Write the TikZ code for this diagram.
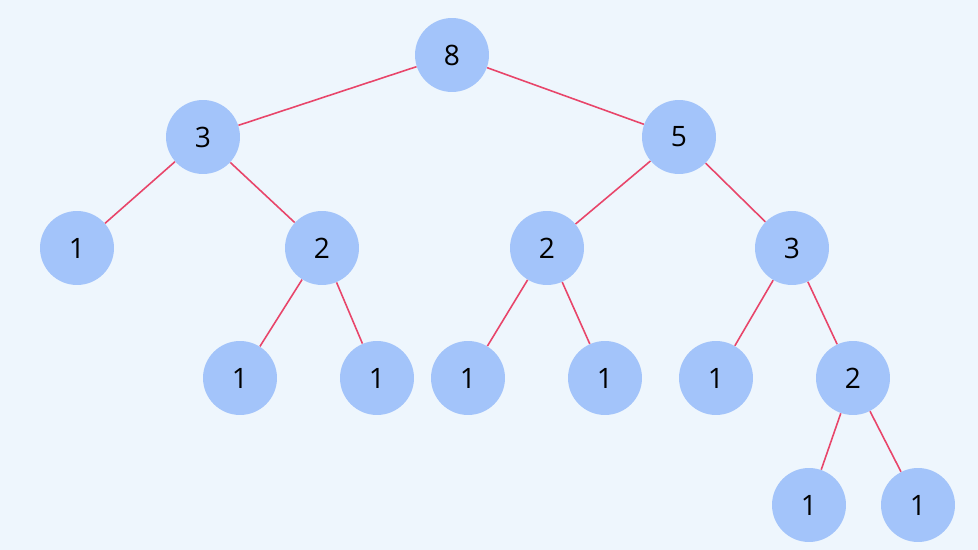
\documentclass[tikz,border=0pt]{standalone}
\usepackage{fontspec}
\setmainfont{Open Sans}
\definecolor{bg}{HTML}{EEF6FD}
\definecolor{nd}{HTML}{A3C4FA}
\definecolor{ed}{HTML}{E8456A}
\begin{document}
\begin{tikzpicture}[x=0.02cm,y=-0.02cm,
  tn/.style={circle,fill=nd,minimum size=1.48cm,inner sep=0pt,font=\fontsize{16}{18}\selectfont},
  te/.style={draw=ed,line width=0.9pt}]
\fill[bg] (0,0) rectangle (978,550);
\node[tn] (r) at (452,55) {8};
\node[tn] (a) at (203,137) {3};
\node[tn] (b) at (679,137) {5};
\node[tn] (a1) at (77,248) {1};
\node[tn] (a2) at (322,248) {2};
\node[tn] (b1) at (547,248) {2};
\node[tn] (b2) at (792,248) {3};
\node[tn] (a21) at (240,378) {1};
\node[tn] (a22) at (377,378) {1};
\node[tn] (b11) at (468,378) {1};
\node[tn] (b12) at (605,378) {1};
\node[tn] (b21) at (716,378) {1};
\node[tn] (b22) at (853,378) {2};
\node[tn] (c1) at (809,505) {1};
\node[tn] (c2) at (918,505) {1};
\foreach \p/\c in {r/a,r/b,a/a1,a/a2,b/b1,b/b2,a2/a21,a2/a22,b1/b11,b1/b12,b2/b21,b2/b22,b22/c1,b22/c2}
  \draw[te] (\p) -- (\c);
\end{tikzpicture}
\end{document}
